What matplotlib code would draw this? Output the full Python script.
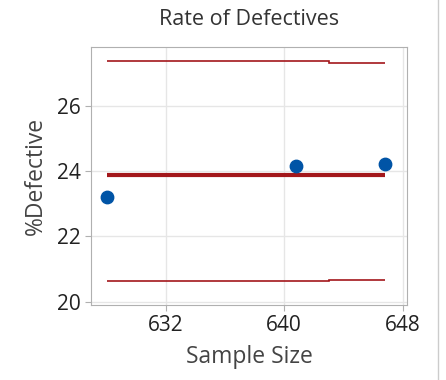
import numpy as np
import matplotlib.pyplot as plt

plt.rcParams['font.family'] = ['Open Sans', 'DejaVu Sans']

# data
sample_size = [628.0, 640.8, 646.8]
pct_defective = [23.22, 24.16, 24.21]
center = 23.87
limit_edges = [628.0, 634.5, 643.0, 646.8]
ucl = [27.38, 27.37, 27.31]
lcl = [20.62, 20.63, 20.68]

blue = '#0054a6'
red = '#a3171b'

fig = plt.figure(figsize=(4.46, 3.80), dpi=100)
ax = fig.add_axes([91 / 446, 1 - 305 / 380, 316 / 446, 258 / 380])

ax.stairs(ucl, limit_edges, color=red, lw=1.2, baseline=None)
ax.stairs(lcl, limit_edges, color=red, lw=1.2, baseline=None)
ax.plot([sample_size[0], sample_size[-1]], [center, center], color=red, lw=3, solid_capstyle='butt')
ax.scatter(sample_size, pct_defective, s=80, color=blue, zorder=5)

ax.set_xlim(626.95, 648.3)
ax.set_ylim(19.9, 27.8)
ax.set_xticks([632, 640, 648])
ax.set_yticks([20, 22, 24, 26])
ax.grid(True, color='#e6e6e6', lw=1)
ax.set_axisbelow(True)
for s in ax.spines.values():
    s.set_color('#b0b0b0')
ax.tick_params(colors='#b0b0b0', labelcolor='#222222', labelsize=15, length=4)

ax.set_title('Rate of Defectives', fontsize=15.5, color='#333333', pad=16)
ax.set_xlabel('Sample Size', fontsize=16.5, color='#444444', labelpad=6)
ax.set_ylabel('%Defective', fontsize=16.5, color='#444444', labelpad=6)

fig.add_artist(plt.Line2D([438 / 446, 438 / 446], [0, 1], color='#cccccc', lw=1))

fig.savefig('out.png', dpi=100)
